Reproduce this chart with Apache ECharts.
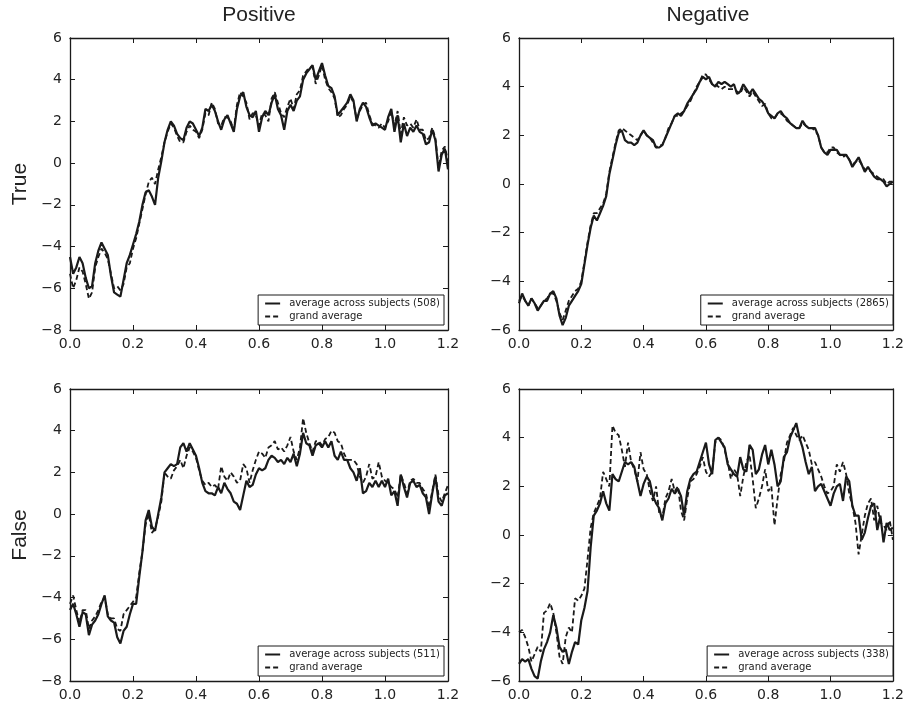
<!DOCTYPE html>
<html>
<head>
<meta charset="utf-8">
<script src="https://cdn.jsdelivr.net/npm/echarts@6/dist/echarts.min.js"></script>
<style>
  html, body { margin: 0; padding: 0; background: #fff; }
  #chart { width: 907px; height: 706px; }
</style>
</head>
<body>
<div id="chart"></div>
<script>
// ERP-style averages, sampled every 10 ms from 0 to 1.2 s
const STEP = 0.01;

const columnTitles = ['Positive', 'Negative'];
const rowTitles = ['True', 'False'];
const xTicks = [0.0, 0.2, 0.4, 0.6, 0.8, 1.0, 1.2];

// Positive / True
const posTrueSubj = [
  -4.5,-5.3,-5.0,-4.5,-4.8,-5.5,-6.0,-5.9,-4.8,-4.2,
  -3.8,-4.1,-4.4,-5.4,-6.2,-6.3,-6.4,-5.6,-4.8,-4.4,
  -3.9,-3.4,-2.8,-2.0,-1.4,-1.3,-1.6,-2.0,-0.7,0.1,
  1.0,1.6,2.0,1.8,1.4,1.2,1.1,1.7,2.0,1.9,
  1.6,1.3,1.7,2.6,2.5,2.8,2.5,2.0,1.6,2.1,
  2.3,1.9,1.5,2.6,3.2,3.4,2.7,2.3,2.2,2.5,
  1.5,2.2,2.5,2.3,2.9,3.3,2.6,2.3,1.6,2.5,
  2.8,2.5,3.0,3.2,4.0,4.3,4.5,4.7,4.0,4.4,
  4.8,4.2,3.7,3.6,3.2,2.3,2.5,2.7,2.9,3.3,
  3.0,2.0,2.6,2.9,2.7,2.2,1.8,1.9,1.8,1.7,
  1.6,2.2,2.6,1.5,2.3,1.0,1.9,1.3,1.7,1.5,
  1.8,1.5,1.4,0.9,1.0,1.6,1.1,-0.4,0.4,0.7,
  -0.3
];
const posTrueGrand = [
  -5.3,-6.0,-5.6,-5.0,-5.2,-5.8,-6.5,-6.2,-5.0,-4.5,
  -4.1,-4.3,-4.6,-5.3,-6.0,-5.9,-6.1,-5.8,-5.0,-4.8,
  -4.1,-3.6,-2.9,-2.2,-1.5,-0.9,-0.7,-1.0,-0.3,0.3,
  1.0,1.5,1.9,1.7,1.3,1.0,1.0,1.5,1.8,1.6,
  1.5,1.2,1.6,2.4,2.3,2.9,2.6,1.9,1.8,2.2,
  2.2,2.0,1.6,2.8,3.4,3.2,2.9,2.1,2.4,2.3,
  1.8,2.4,2.3,2.0,3.1,3.4,2.9,2.4,2.2,2.7,
  3.1,2.6,3.3,3.5,4.2,4.4,4.6,4.6,3.8,4.2,
  4.7,4.0,3.6,3.4,3.1,2.2,2.3,2.6,2.8,3.2,
  2.9,2.1,2.5,2.8,2.9,2.3,1.9,1.8,1.7,1.9,
  1.7,2.0,2.5,1.8,2.5,1.4,2.2,1.8,1.9,1.7,
  2.1,1.6,1.6,1.1,1.2,1.7,1.2,-0.2,0.6,0.8,
  0.1
];

// Negative / True
const negTrueSubj = [
  -4.9,-4.5,-4.8,-5.0,-4.7,-4.9,-5.2,-5.0,-4.8,-4.8,
  -4.5,-4.4,-4.7,-5.4,-5.8,-5.5,-5.0,-4.8,-4.6,-4.4,
  -4.1,-3.3,-2.5,-1.8,-1.3,-1.5,-1.2,-0.9,-0.5,0.4,
  1.0,1.6,2.1,2.2,1.8,1.7,1.7,1.6,1.7,2.0,
  2.2,2.0,1.9,1.8,1.5,1.5,1.6,1.9,2.2,2.5,
  2.8,2.9,2.8,3.0,3.3,3.5,3.7,3.9,4.2,4.4,
  4.3,4.4,4.1,4.0,4.2,4.1,4.2,4.1,4.0,4.1,
  3.7,3.8,4.1,3.9,3.7,3.9,3.7,3.5,3.4,3.2,
  2.9,2.8,2.7,2.9,3.0,2.8,2.7,2.5,2.4,2.3,
  2.3,2.6,2.4,2.3,2.3,2.3,2.0,1.5,1.3,1.2,
  1.4,1.4,1.4,1.2,1.2,1.2,1.0,0.7,0.9,1.1,
  0.8,0.5,0.7,0.5,0.3,0.2,0.2,0.1,-0.1,0.0,
  0.1
];
const negTrueGrand = [
  -4.8,-4.6,-4.8,-5.0,-4.7,-4.9,-5.1,-5.0,-4.8,-4.7,
  -4.5,-4.5,-4.8,-5.3,-5.6,-5.2,-4.8,-4.6,-4.4,-4.3,
  -4.0,-3.2,-2.4,-1.7,-1.2,-1.2,-1.0,-0.8,-0.4,0.5,
  1.1,1.7,2.2,2.3,2.2,2.1,2.0,1.9,1.8,2.0,
  2.2,2.0,1.9,1.7,1.5,1.6,1.6,1.9,2.3,2.5,
  2.8,2.8,2.9,3.0,3.2,3.4,3.7,4.0,4.2,4.5,
  4.5,4.3,4.1,4.1,4.0,3.9,4.0,3.9,3.9,3.9,
  3.8,3.7,4.0,3.8,3.6,3.8,3.6,3.4,3.2,3.3,
  2.9,2.7,2.7,2.9,2.9,2.8,2.6,2.5,2.4,2.3,
  2.3,2.5,2.4,2.3,2.3,2.2,2.0,1.5,1.3,1.3,
  1.5,1.5,1.3,1.2,1.1,1.2,1.0,0.8,0.9,1.0,
  0.8,0.6,0.6,0.5,0.4,0.3,0.2,0.2,0.0,0.1,
  0.1
];

// Positive / False
const posFalseSubj = [
  -4.6,-4.3,-4.8,-5.4,-4.7,-4.8,-5.8,-5.3,-5.1,-4.8,
  -4.3,-3.9,-4.9,-5.1,-5.2,-5.9,-6.2,-5.6,-5.4,-4.8,
  -4.3,-4.3,-3.0,-1.8,-0.3,0.2,-0.6,-0.8,0.0,0.8,
  2.0,2.2,2.4,2.3,2.4,3.2,3.4,3.0,3.4,3.1,
  2.8,2.2,1.5,1.1,1.0,1.0,0.9,1.3,1.0,1.5,
  1.2,1.0,0.6,0.5,0.2,0.9,1.6,1.3,1.4,1.9,
  2.2,2.1,2.2,2.6,2.8,2.7,2.5,2.6,2.4,2.7,
  2.5,2.9,2.3,2.9,3.9,3.4,3.3,2.8,3.3,3.4,
  3.2,3.5,3.2,3.5,2.8,2.6,3.0,2.6,2.6,2.2,
  2.0,1.6,2.2,1.0,1.1,1.5,1.3,1.6,1.3,1.6,
  1.3,1.7,0.9,1.1,0.4,1.9,1.3,0.8,1.5,1.6,
  1.3,1.4,1.0,0.8,0.0,1.0,1.8,0.6,0.4,0.9,
  1.0
];
const posFalseGrand = [
  -4.3,-3.9,-4.6,-5.2,-4.6,-4.6,-5.5,-5.1,-4.9,-4.6,
  -4.2,-4.0,-4.8,-5.0,-5.0,-5.5,-5.6,-4.8,-4.6,-4.4,
  -4.2,-4.0,-2.8,-1.8,-0.5,0.0,-0.9,-0.7,-0.1,0.6,
  2.0,1.8,1.7,2.1,2.3,2.6,2.2,2.8,3.2,3.0,
  2.7,2.1,1.6,1.4,1.5,1.3,1.4,1.2,2.3,1.8,
  1.6,2.0,1.8,1.5,1.6,2.4,2.2,1.5,2.1,2.6,
  3.0,2.9,2.7,3.2,3.3,3.5,3.1,3.2,3.0,3.3,
  3.7,3.0,2.6,3.2,4.6,3.9,3.4,3.0,3.5,3.5,
  3.3,3.6,3.7,4.0,3.9,3.5,3.4,2.9,2.6,2.6,
  2.6,2.4,1.8,1.5,1.8,2.4,1.7,1.8,2.5,1.8,
  1.6,1.5,1.3,1.2,0.8,1.9,1.5,1.0,1.6,1.7,
  1.5,1.5,1.2,1.0,0.3,1.1,1.9,0.9,0.6,1.0,
  1.4
];

// Negative / False
const negFalseSubj = [
  -5.3,-5.1,-5.2,-5.1,-5.5,-5.8,-5.9,-5.2,-4.7,-4.4,
  -4.0,-3.3,-3.8,-4.6,-4.8,-4.7,-5.3,-4.8,-4.4,-4.5,
  -3.5,-3.0,-2.3,-0.5,0.8,1.0,1.3,1.8,1.3,1.0,
  2.5,2.3,2.2,2.6,3.0,2.9,3.0,2.8,2.2,1.6,
  2.1,2.4,2.2,1.6,1.3,1.1,0.6,1.3,1.5,1.9,
  1.7,1.9,1.6,0.8,1.8,2.3,2.5,2.6,3.0,3.4,
  3.8,2.9,2.5,3.9,4.0,3.8,3.6,2.9,2.7,2.5,
  2.4,3.2,2.7,2.6,3.7,3.5,2.5,2.7,3.3,3.7,
  2.9,3.5,2.9,2.0,2.2,3.2,3.4,4.0,4.3,4.6,
  4.0,3.6,3.0,2.5,2.8,1.8,2.0,2.1,1.8,1.5,
  1.2,1.7,2.0,2.1,1.4,2.4,2.2,1.2,0.8,0.8,
  -0.2,0.1,0.7,1.2,1.3,0.2,0.8,-0.3,0.5,0.2,
  0.3
];
const negFalseGrand = [
  -4.0,-3.9,-4.2,-4.6,-5.2,-4.9,-4.6,-4.8,-3.2,-3.1,
  -2.8,-3.2,-4.0,-5.0,-5.3,-4.2,-3.8,-4.0,-2.6,-2.7,
  -2.5,-2.2,-1.0,0.3,0.9,1.2,1.5,2.6,2.3,2.0,
  4.5,4.2,4.1,3.5,2.8,3.8,3.0,2.7,2.2,3.4,
  2.7,2.5,1.8,1.4,2.0,0.9,0.7,1.5,1.8,2.3,
  1.8,2.0,1.0,0.6,1.5,2.2,2.3,2.5,2.8,3.2,
  2.6,2.4,2.6,3.8,4.0,3.9,3.5,3.0,2.3,2.7,
  2.5,1.6,2.4,3.0,3.3,2.3,1.1,1.5,2.0,2.7,
  1.8,2.0,0.4,1.5,2.5,3.0,3.8,4.1,4.4,4.1,
  3.9,4.1,3.8,3.5,2.9,3.0,2.7,2.4,2.0,1.7,
  1.8,2.0,2.9,2.6,3.0,2.5,1.7,1.2,0.5,-0.8,
  0.0,0.8,1.3,1.5,0.6,1.2,0.5,0.4,0.2,0.6,
  -0.2
];

const subjectCounts = [508, 2865, 511, 338];
const yRanges = [[-8, 6], [-6, 6], [-8, 6], [-6, 6]];

// panel data in reading order: top-left, top-right, bottom-left, bottom-right
const panelData = [
  [posTrueSubj, posTrueGrand],
  [negTrueSubj, negTrueGrand],
  [posFalseSubj, posFalseGrand],
  [negFalseSubj, negFalseGrand]
];

// layout of the 2x2 grid (pixels)
const W = 907, H = 706;
const gridLefts = [70, 519];
const gridTops = [38, 389];
const gridW = 378, gridH = 292;

const INK = '#1a1a1a';
const TICK_FONT = 'DejaVu Sans';

const toPairs = arr => arr.map((v, i) => [+(i * STEP).toFixed(2), v]);
const fmtY = v => (v < 0 ? '\u2212' + Math.abs(v) : String(v));

const grids = [], xAxes = [], yAxes = [], series = [], legends = [];

panelData.forEach((pair, p) => {
  const col = p % 2, row = Math.floor(p / 2);
  const left = gridLefts[col], top = gridTops[row];
  grids.push({ left, top, width: gridW, height: gridH, containLabel: false });

  const tickStyle = { show: true, inside: true, length: 5, lineStyle: { color: INK, width: 1 } };
  const lineStyle = { show: true, onZero: false, lineStyle: { color: INK, width: 1.3 } };

  // bottom axis with labels
  xAxes.push({
    type: 'value', gridIndex: p, position: 'bottom',
    min: xTicks[0], max: xTicks[xTicks.length - 1], interval: 0.2,
    axisLine: lineStyle, axisTick: tickStyle, splitLine: { show: false },
    axisLabel: { show: true, margin: 7, color: '#222', fontFamily: TICK_FONT, fontSize: 14,
                 formatter: v => v.toFixed(1) }
  });
  // top axis: ticks only
  xAxes.push({
    type: 'value', gridIndex: p, position: 'top',
    min: xTicks[0], max: xTicks[xTicks.length - 1], interval: 0.2,
    axisLine: lineStyle, axisTick: tickStyle, splitLine: { show: false },
    axisLabel: { show: false }
  });
  const [yMin, yMax] = yRanges[p];
  yAxes.push({
    type: 'value', gridIndex: p, position: 'left', min: yMin, max: yMax, interval: 2,
    axisLine: lineStyle, axisTick: tickStyle, splitLine: { show: false },
    axisLabel: { show: true, margin: 8, color: '#222', fontFamily: TICK_FONT, fontSize: 14,
                 formatter: fmtY }
  });
  yAxes.push({
    type: 'value', gridIndex: p, position: 'right', min: yMin, max: yMax, interval: 2,
    axisLine: lineStyle, axisTick: tickStyle, splitLine: { show: false },
    axisLabel: { show: false }
  });

  const subjName = 'average across subjects (' + subjectCounts[p] + ')';
  series.push({
    name: subjName, type: 'line', xAxisIndex: 2 * p, yAxisIndex: 2 * p,
    data: toPairs(pair[0]), symbol: 'none', showSymbol: false, smooth: false,
    lineStyle: { color: INK, width: 2.2 }, itemStyle: { color: INK }, z: 3
  });
  series.push({
    name: 'grand average', type: 'line', xAxisIndex: 2 * p, yAxisIndex: 2 * p,
    data: toPairs(pair[1]), symbol: 'none', showSymbol: false, smooth: false,
    lineStyle: { color: INK, width: 1.8, type: [5, 3] }, itemStyle: { color: INK }, z: 2
  });

  legends.push({
    data: [subjName, 'grand average'],
    orient: 'vertical',
    right: W - (left + gridW - 4),
    bottom: H - (top + gridH - 5),
    backgroundColor: '#fff',
    borderColor: INK, borderWidth: 1, borderRadius: 0,
    padding: [3, 4, 3, 6],
    itemGap: 2, itemWidth: 15, itemHeight: 10,
    selectedMode: false,
    // hide the point marker so only the line sample shows
    itemStyle: { color: 'transparent', borderColor: 'transparent', borderWidth: 0, opacity: 0 },
    lineStyle: { width: 2 },
    textStyle: { fontFamily: TICK_FONT, fontSize: 10, lineHeight: 11, color: '#222', padding: [0, 0, 0, 4] }
  });
});

// column and row headings
const HEAD_FONT = '21px "Liberation Sans", Arial, sans-serif';
const graphics = [];
columnTitles.forEach((t, c) => {
  graphics.push({
    type: 'text', x: gridLefts[c] + gridW / 2, y: 15,
    style: { text: t, font: HEAD_FONT, fill: '#222', textAlign: 'center', textVerticalAlign: 'middle' }
  });
});
rowTitles.forEach((t, r) => {
  graphics.push({
    type: 'text', x: 20, y: gridTops[r] + gridH / 2, rotation: Math.PI / 2,
    style: { text: t, font: HEAD_FONT, fill: '#222', textAlign: 'center', textVerticalAlign: 'middle' }
  });
});

const chart = echarts.init(document.getElementById('chart'), null, { renderer: 'canvas' });
chart.setOption({
  animation: false,
  backgroundColor: '#fff',
  grid: grids,
  xAxis: xAxes,
  yAxis: yAxes,
  series: series,
  legend: legends,
  graphic: graphics
});
</script>
</body>
</html>
